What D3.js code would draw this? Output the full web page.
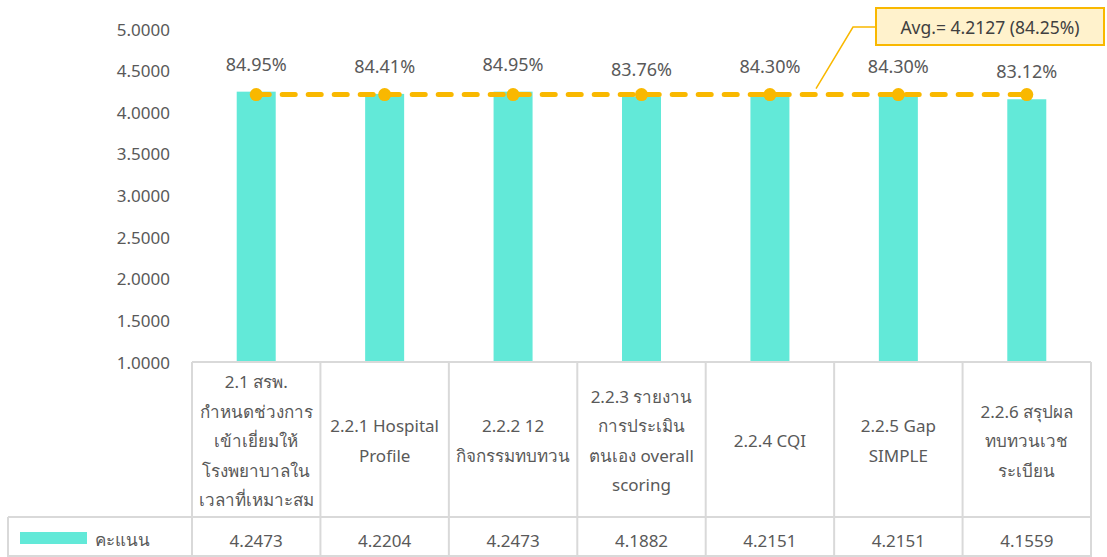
<!DOCTYPE html>
<html>
<head>
<meta charset="utf-8">
<script src="https://cdn.jsdelivr.net/npm/d3@7"></script>
<style>
  body { margin: 0; background: #fff; }
  svg { display: block; font-family: "Noto Sans", "DejaVu Sans", sans-serif; }
</style>
</head>
<body>
<svg id="chart" width="1107" height="557"></svg>
<script>
// data
const categories = [
  "2.1 สรพ.\nกำหนดช่วงการ\nเข้าเยี่ยมให้\nโรงพยาบาลใน\nเวลาที่เหมาะสม",
  "2.2.1 Hospital\nProfile",
  "2.2.2 12\nกิจกรรมทบทวน",
  "2.2.3 รายงาน\nการประเมิน\nตนเอง overall\nscoring",
  "2.2.4 CQI",
  "2.2.5 Gap\nSIMPLE",
  "2.2.6 สรุปผล\nทบทวนเวช\nระเบียน"
];
const scores = [4.2473, 4.2204, 4.2473, 4.1882, 4.2151, 4.2151, 4.1559];
const percents = ["84.95%", "84.41%", "84.95%", "83.76%", "84.30%", "84.30%", "83.12%"];
const avgValue = 4.2127;
const avgLabel = "Avg.= 4.2127 (84.25%)";
const seriesName = "คะแนน";
const yTicks = [1, 1.5, 2, 2.5, 3, 3.5, 4, 4.5, 5];

const svg = d3.select("#chart");
const textColor = "#595959";
const barColor = "#62E9D8";
const orange = "#F9B800";
const gridColor = "#D9D9D9";

const plotLeft = 192, plotRight = 1091, plotTop = 29, plotBottom = 362;
const headerBottom = 517, tableBottom = 557;

const x = d3.scaleBand().domain(categories).range([plotLeft, plotRight]);
const y = d3.scaleLinear().domain([1, 5]).range([plotBottom, plotTop]);
const cx = d => x(d) + x.bandwidth() / 2;

// y axis labels
svg.append("g")
  .selectAll("text")
  .data(yTicks)
  .join("text")
    .attr("x", 170)
    .attr("y", d => y(d))
    .attr("text-anchor", "end")
    .attr("dominant-baseline", "central")
    .attr("font-size", "17px")
    .attr("fill", textColor)
    .text(d => d.toFixed(4));

// bars
const barW = 39;
svg.append("g")
  .selectAll("rect")
  .data(categories)
  .join("rect")
    .attr("x", d => cx(d) - barW / 2)
    .attr("y", (d, i) => y(scores[i]))
    .attr("width", barW)
    .attr("height", (d, i) => plotBottom - y(scores[i]))
    .attr("fill", barColor);

// percent labels
svg.append("g")
  .selectAll("text")
  .data(categories)
  .join("text")
    .attr("x", cx)
    .attr("y", (d, i) => y(scores[i]) - 28)
    .attr("text-anchor", "middle")
    .attr("dominant-baseline", "central")
    .attr("font-size", "18px")
    .attr("fill", textColor)
    .text((d, i) => percents[i]);

// average line
const line = d3.line().x(d => cx(d)).y(() => y(avgValue));
svg.append("path")
  .attr("d", line(categories))
  .attr("fill", "none")
  .attr("stroke", orange)
  .attr("stroke-width", 5)
  .attr("stroke-dasharray", "13,13")
  .attr("stroke-linecap", "round");

svg.append("g")
  .selectAll("circle")
  .data(categories)
  .join("circle")
    .attr("cx", cx)
    .attr("cy", y(avgValue))
    .attr("r", 6.5)
    .attr("fill", orange);

// callout
const ly = y(avgValue);
svg.append("polyline")
  .attr("points", `816,${ly - 6} 853,27 876,27`)
  .attr("fill", "none")
  .attr("stroke", orange)
  .attr("stroke-width", 1.5);
svg.append("rect")
  .attr("x", 876).attr("y", 8)
  .attr("width", 228).attr("height", 37)
  .attr("fill", "#FFF2CC")
  .attr("stroke", orange)
  .attr("stroke-width", 2);
svg.append("text")
  .attr("x", 990).attr("y", 27)
  .attr("text-anchor", "middle")
  .attr("dominant-baseline", "central")
  .attr("font-size", "17.5px")
  .attr("fill", "#404040")
  .text(avgLabel);

// data table
const table = svg.append("g")
  .attr("stroke", gridColor)
  .attr("stroke-width", 2);
table.append("line").attr("x1", plotLeft).attr("x2", plotRight).attr("y1", plotBottom).attr("y2", plotBottom);
table.append("line").attr("x1", 8).attr("x2", plotRight).attr("y1", headerBottom).attr("y2", headerBottom);
table.append("line").attr("x1", 8).attr("x2", plotRight).attr("y1", tableBottom - 1).attr("y2", tableBottom - 1);
table.append("line").attr("x1", 8).attr("x2", 8).attr("y1", headerBottom).attr("y2", tableBottom);
table.selectAll("line.v")
  .data(categories.concat([null]))
  .join("line")
    .attr("class", "v")
    .attr("x1", d => d === null ? plotRight : x(d))
    .attr("x2", d => d === null ? plotRight : x(d))
    .attr("y1", plotBottom)
    .attr("y2", tableBottom);

// category labels
const lineH = 29.5;
const midHeader = (plotBottom + headerBottom) / 2 + 1;
svg.append("g")
  .selectAll("text")
  .data(categories)
  .join("text")
    .attr("text-anchor", "middle")
    .attr("font-size", "17px")
    .attr("fill", textColor)
    .each(function (d) {
      const lines = d.split("\n");
      const y0 = midHeader - (lines.length - 1) * lineH / 2;
      d3.select(this).selectAll("tspan")
        .data(lines)
        .join("tspan")
          .attr("x", cx(d))
          .attr("y", (l, i) => y0 + i * lineH)
          .attr("dominant-baseline", "central")
          .text(l => l);
    });

// score values
svg.append("g")
  .selectAll("text")
  .data(categories)
  .join("text")
    .attr("x", cx)
    .attr("y", 540)
    .attr("text-anchor", "middle")
    .attr("dominant-baseline", "central")
    .attr("font-size", "17px")
    .attr("fill", textColor)
    .text((d, i) => scores[i].toFixed(4));

// legend key
svg.append("rect")
  .attr("x", 20).attr("y", 532)
  .attr("width", 67).attr("height", 12)
  .attr("fill", barColor);
svg.append("text")
  .attr("x", 95).attr("y", 539)
  .attr("dominant-baseline", "central")
  .attr("font-size", "17px")
  .attr("fill", textColor)
  .text(seriesName);
</script>
</body>
</html>
